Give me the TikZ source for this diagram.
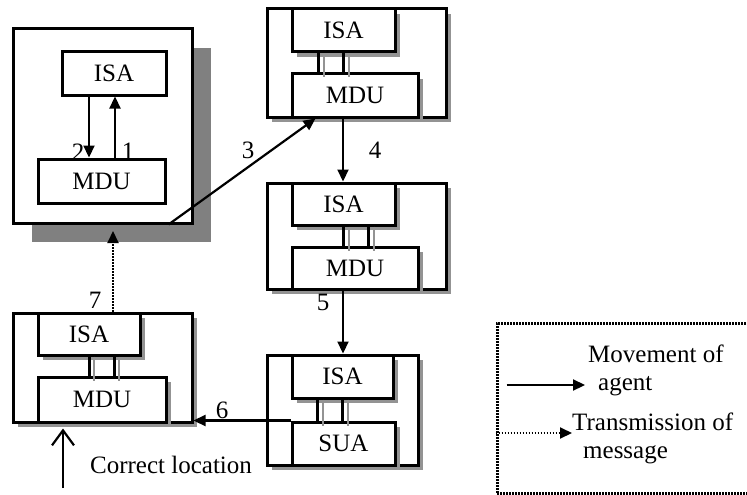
\documentclass[tikz,border=0pt]{standalone}
\usepackage{fontspec}
\setmainfont{Liberation Serif}
\usetikzlibrary{arrows.meta,shadows}

\begin{document}
\begin{tikzpicture}[x=1pt,y=-1pt,font=\fontsize{25}{28}\selectfont]
		\useasboundingbox (0,0) rectangle (747,495);
		
		% home host
		\begin{scope}[every node/.style={draw,line width=3pt,fill=white,inner sep=0pt}]
			\node[minimum width=179pt,minimum height=194pt,
				drop shadow={shadow xshift=19pt,shadow yshift=-19pt,fill=gray,opacity=1}] (H1) at (102.5,126) {};
			\node[minimum width=104pt,minimum height=43pt] (ISA1) at (114,73.5) {ISA};
			\node[minimum width=127pt,minimum height=44pt] (MDU1) at (101.5,181) {MDU};
		\end{scope}
		
		% visited hosts
		\begin{scope}[every node/.style={draw,line width=3pt,fill=white,inner sep=0pt,
				drop shadow={shadow xshift=5pt,shadow yshift=-5pt,fill=gray!85,opacity=1}}]
			\node[minimum width=179pt,minimum height=108pt] (H2) at (356.5,63) {};
			\node[minimum width=103pt,minimum height=43pt] (ISA2) at (343.5,30.5) {ISA};
			\node[minimum width=126pt,minimum height=43pt] (MDU2) at (355,95.5) {MDU};
			
			\node[minimum width=179pt,minimum height=106pt] (H3) at (356.5,236) {};
			\node[minimum width=103pt,minimum height=42pt] (ISA3) at (343.5,204) {ISA};
			\node[minimum width=126pt,minimum height=42pt] (MDU3) at (355,268) {MDU};
			
			\node[minimum width=151pt,minimum height=110pt] (H4) at (342.5,410) {};
			\node[minimum width=101pt,minimum height=43pt] (ISA4) at (342.5,376.5) {ISA};
			\node[minimum width=103pt,minimum height=43pt] (SUA4) at (343.5,443.5) {SUA};
			
			\node[minimum width=179pt,minimum height=109pt] (H5) at (102.5,367.5) {};
			\node[minimum width=102pt,minimum height=42pt] (ISA5) at (89,334) {ISA};
			\node[minimum width=128pt,minimum height=45pt] (MDU5) at (102,399.5) {MDU};
		\end{scope}
		
		% links between ISA and MDU/SUA
		\foreach \up/\lo/\dx in {ISA2/MDU2/-25,ISA2/MDU2/0,ISA3/MDU3/0,ISA3/MDU3/25,
			ISA4/SUA4/-25,ISA4/SUA4/0,ISA5/MDU5/0,ISA5/MDU5/25}{
			\draw[gray!85,line width=2pt] ([xshift={\dx pt+5pt}]\up.south) -- ([xshift={\dx pt+5pt},yshift=-5pt]\up.south |- \lo.north);
			\draw[line width=3pt] ([xshift=\dx pt]\up.south) -- ([xshift=\dx pt]\up.south |- \lo.north);
		}
		
		\coordinate (M7) at (113,231);
		\coordinate (L0) at (63,488);
		
		\begin{scope}[>={Triangle[length=12pt,width=11pt]},
			every node/.style={inner sep=0pt}]
			\draw[->,line width=2.2pt] ([xshift=-25pt]ISA1.south) -- ([xshift=-25pt]ISA1.south |- MDU1.north);
			\draw[->,line width=2.2pt] ([xshift=1pt]ISA1.south |- MDU1.north) -- ([xshift=1pt]ISA1.south);
			\draw[->,line width=2.2pt] ([xshift=-25pt]H1.south east) -- ([xshift=25pt]MDU2.south west);
			\draw[->,line width=2.2pt] ([xshift=-12pt]MDU2.south) -- ([xshift=-12pt]MDU2.south |- H3.north);
			\draw[->,line width=2.2pt] ([xshift=-12pt]MDU3.south) -- ([xshift=-12pt]MDU3.south |- H4.north);
			\draw[->,line width=2.2pt] (SUA4.north west) -- (SUA4.north west -| H5.east);
			\draw[->,line width=2pt,dash pattern=on 1.5pt off 1.5pt] ([xshift=10.5pt]H5.north) -- (M7);
			\draw[-{Straight Barb[length=15pt,width=22pt]},line width=2.2pt] (L0) -- ([yshift=-5pt]L0 |- MDU5.south);
			
			\node (N1) at (128,151) {1};
			\node (N2) at (78,152) {2};
			\node (N3) at (248,150) {3};
			\node (N4) at (375,150) {4};
			\node (N5) at (323,302) {5};
			\node (N6) at (222,410) {6};
			\node (N7) at (95,300) {7};
			\node (CL) at (171,465) {Correct location};
			
			% legend
			\node[draw,line width=3pt,dash pattern=on 1.8pt off 1.2pt,
				minimum width=263pt,minimum height=170pt] (LEG) at (628.5,408) {};
			\coordinate (A1) at (585,385);
			\coordinate (B1) at (572,433);
			\draw[->,line width=2.2pt] ([xshift=11pt]A1 -| LEG.west) -- (A1);
			\draw[->,line width=2pt,dash pattern=on 1.5pt off 1.5pt] (B1 -| LEG.west) -- (B1);
			\node[align=left,anchor=west] (T1) at (588,370) {Movement of\\\hspace*{10pt}agent};
			\node[align=left,anchor=west] (T2) at (572,438) {Transmission of\\\hspace*{11pt}message};
		\end{scope}
	\end{tikzpicture}
\end{document}
